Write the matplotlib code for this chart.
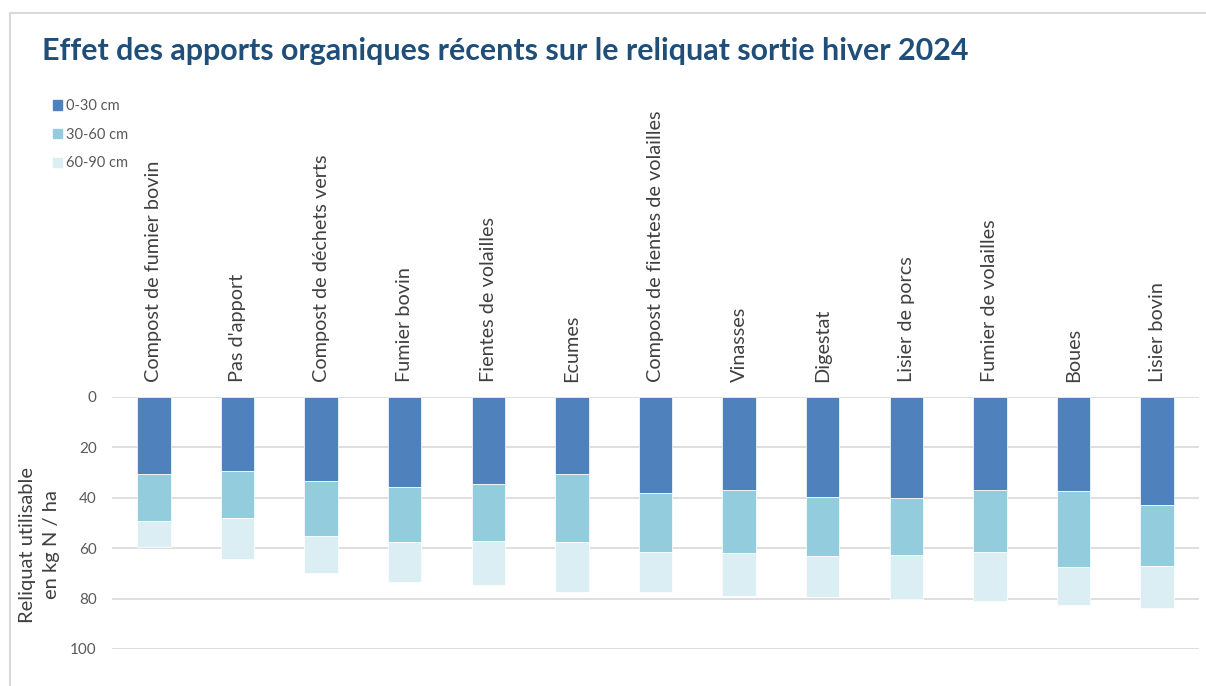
import matplotlib.pyplot as plt
import matplotlib.patches as mpatches
import numpy as np

plt.rcParams['font.family'] = ['Lato', 'DejaVu Sans']

categories = ['Compost de fumier bovin', "Pas d'apport", 'Compost de déchets verts',
              'Fumier bovin', 'Fientes de volailles', 'Ecumes',
              'Compost de fientes de volailles', 'Vinasses', 'Digestat',
              'Lisier de porcs', 'Fumier de volailles', 'Boues', 'Lisier bovin']
h_0_30 = [30.6, 29.5, 33.2, 35.7, 34.4, 30.6, 38.1, 36.8, 39.8, 40.2, 36.8, 37.4, 42.7]
h_30_60 = [18.6, 18.7, 22.0, 21.8, 22.9, 26.9, 23.3, 25.3, 23.3, 22.3, 24.6, 30.2, 24.2]
h_60_90 = [10.5, 16.0, 14.5, 16.1, 17.3, 19.9, 16.0, 17.0, 16.4, 17.5, 19.7, 14.9, 17.0]
layers = ['0-30 cm', '30-60 cm', '60-90 cm']
yticks = [0, 20, 40, 60, 80, 100]

colors = ['#4F81BD', '#93CDDD', '#DBEEF4']

W, H = 1206, 686
fig = plt.figure(figsize=(W/100, H/100), dpi=100)

# cadre du graphique
fig.add_artist(plt.Line2D([10/W, 10/W], [0, 1-13/H], color='#D9D9D9', lw=1.5))
fig.add_artist(plt.Line2D([10/W, 1], [1-13/H, 1-13/H], color='#D9D9D9', lw=1.5))

ax = fig.add_axes([112/W, 1-649/H, (1199-112)/W, (649-397)/H])

x = np.arange(len(categories))
b1 = np.array(h_0_30)
b2 = b1 + np.array(h_30_60)
ax.bar(x, h_0_30, width=0.4, color=colors[0], edgecolor='white', lw=0.5, zorder=3)
ax.bar(x, h_30_60, bottom=b1, width=0.4, color=colors[1], edgecolor='white', lw=0.5, zorder=3)
ax.bar(x, h_60_90, bottom=b2, width=0.4, color=colors[2], edgecolor='white', lw=0.5, zorder=3)

ax.set_xlim(-0.5, len(categories)-0.5)
ax.set_ylim(100, 0)
ax.set_yticks(yticks)
ax.yaxis.grid(True, color='#D9D9D9', lw=1.2, zorder=0)
ax.xaxis.tick_top()
ax.set_xticks(x)
ax.set_xticklabels(categories, rotation=90, fontsize=14.3, color='#404040')
ax.tick_params(axis='x', length=0, pad=11)
ax.tick_params(axis='y', length=0, pad=11, labelsize=11, labelcolor='#595959')
for s in ax.spines.values():
    s.set_visible(False)

fig.text(42/W, 1-51/H, 'Effet des apports organiques récents sur le reliquat sortie hiver 2024',
         fontsize=21.9, fontweight='bold', color='#1F4E79', va='center', ha='left')

fig.text(28/W, 1-545/H, 'Reliquat utilisable', rotation=90, fontsize=14.5,
         color='#404040', ha='center', va='center')
fig.text(52/W, 1-545/H, 'en kg N / ha', rotation=90, fontsize=14.5,
         color='#404040', ha='center', va='center')

handles = [mpatches.Patch(color=c, label=l) for c, l in zip(colors, layers)]
fig.legend(handles=handles, loc='upper left', bbox_to_anchor=(40/W, 1-86/H),
           frameon=False, fontsize=10.5, labelcolor='#595959', handlelength=0.6,
           handleheight=0.6, handletextpad=0.3, labelspacing=1.0)

fig.savefig('out.png', dpi=100)
